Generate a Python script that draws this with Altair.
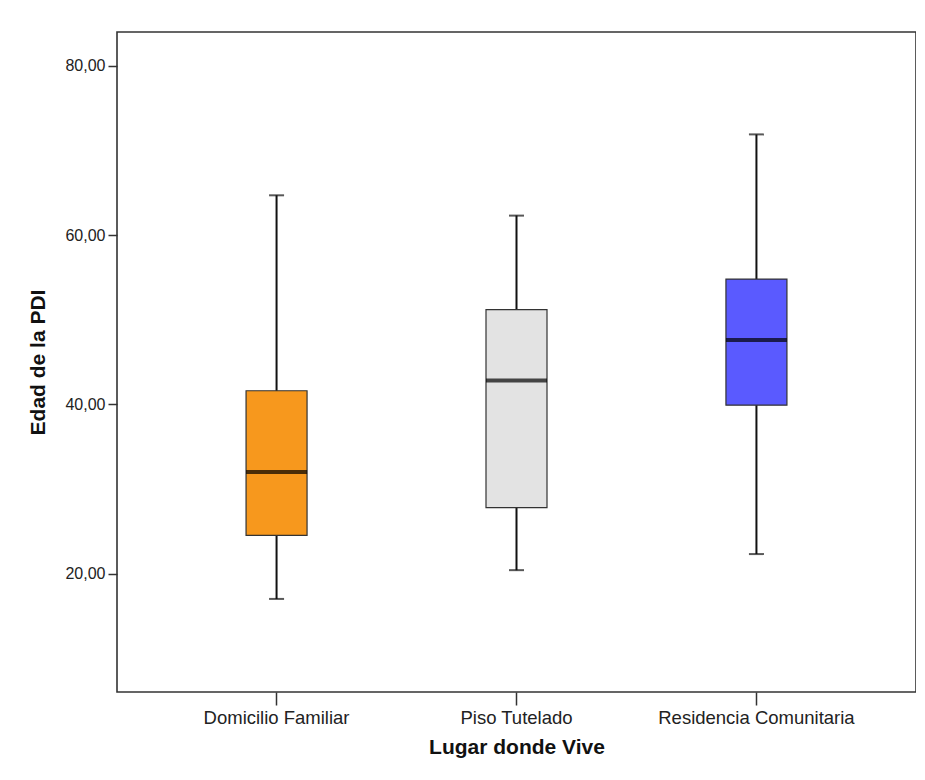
import altair as alt
import pandas as pd

categories = ["Domicilio Familiar", "Piso Tutelado", "Residencia Comunitaria"]
mins = [17.0, 20.4, 22.3]
q1s = [24.5, 27.8, 39.9]
medians = [32.0, 42.8, 47.6]
q3s = [41.6, 51.2, 54.8]
maxs = [64.7, 62.3, 71.9]
colors = ["#F7981D", "#E3E3E3", "#5A5AFF"]

df = pd.DataFrame({
    "cat": categories, "mn": mins, "q1": q1s, "med": medians,
    "q3": q3s, "mx": maxs, "color": colors,
})

font = "Liberation Sans"
xscale = alt.Scale(domain=categories, paddingInner=0, paddingOuter=0.165)
yscale = alt.Scale(domain=[6, 84], nice=False, zero=False)

x = alt.X("cat:N", scale=xscale, sort=categories,
          axis=alt.Axis(title="Lugar donde Vive", labelAngle=0, domain=False,
                        tickSize=13, tickWidth=1.5, tickColor="#333",
                        labelFontSize=18.5, labelFont=font, labelColor="#222",
                        labelLimit=400, labelPadding=3, titleFont=font,
                        titleFontSize=21, titleFontWeight="bold",
                        titleColor="#111", titlePadding=10))
y_axis = alt.Axis(title="Edad de la PDI", values=[20, 40, 60, 80], domain=False,
                  grid=False, tickSize=9, tickWidth=1.5, tickColor="#333",
                  labelExpr="replace(format(datum.value, '.2f'), '.', ',')",
                  labelFontSize=16, labelFont=font, labelColor="#222", labelPadding=3,
                  titleFont=font, titleFontSize=21, titleFontWeight="bold",
                  titleColor="#111", titlePadding=16)

base = alt.Chart(df)

whisker = base.mark_rule(color="#111", strokeWidth=2).encode(
    x=x, y=alt.Y("mn:Q", scale=yscale, axis=y_axis), y2="mx:Q")
cap_lo = base.mark_tick(color="#111", size=15, thickness=2).encode(
    x=x, y=alt.Y("mn:Q", scale=yscale))
cap_hi = base.mark_tick(color="#111", size=15, thickness=2).encode(
    x=x, y=alt.Y("mx:Q", scale=yscale))
box = base.mark_bar(size=61, stroke="#333", strokeWidth=1.2).encode(
    x=x, y=alt.Y("q1:Q", scale=yscale), y2="q3:Q",
    color=alt.Color("color:N", scale=None))
median = base.mark_tick(color="#000", size=61, thickness=4).encode(
    x=x, y=alt.Y("med:Q", scale=yscale))

chart = alt.layer(whisker, cap_lo, cap_hi, box, median).properties(
    width=799, height=660,
    autosize=alt.AutoSizeParams(type="none"),
    padding={"left": 109, "top": 24, "right": 0, "bottom": 70},
    background="white",
).configure_view(stroke="#333", strokeWidth=1.6)

chart.save("out.html", embed_options={"renderer": "svg", "actions": False})
